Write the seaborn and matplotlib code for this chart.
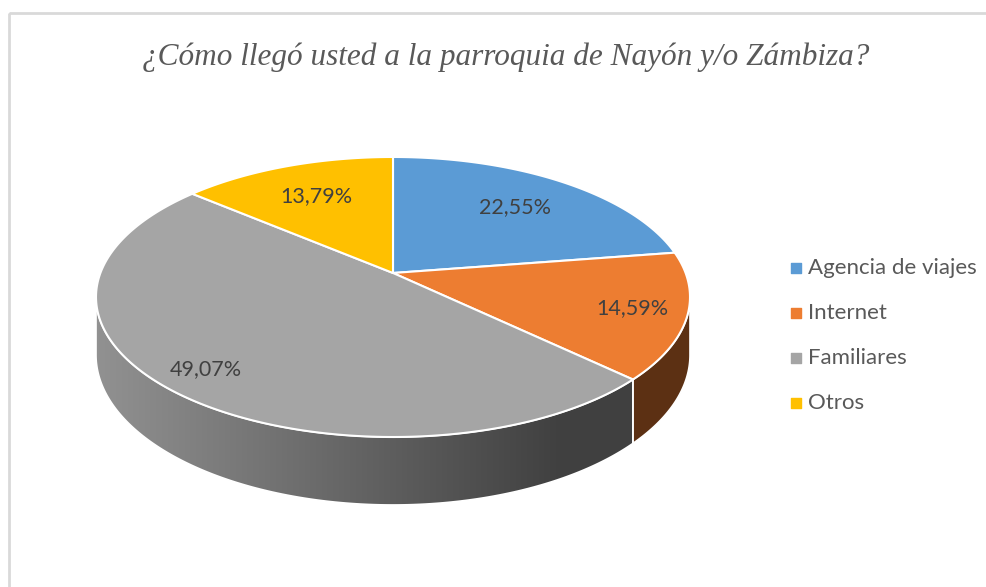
import numpy as np
import matplotlib
matplotlib.use("Agg")
import matplotlib.pyplot as plt
from matplotlib.patches import Polygon, Rectangle
import seaborn as sns

# chart data
title = "¿Cómo llegó usted a la parroquia de Nayón y/o Zámbiza?"
categories = ["Agencia de viajes", "Internet", "Familiares", "Otros"]
shares = [22.55, 14.59, 49.07, 13.79]
slice_colors = ["#5B9BD5", "#ED7D31", "#A5A5A5", "#FFC000"]

# label distance from the centre (fraction of the radius), like excel "best fit"
label_r = [0.70, 0.82, 0.85, 0.69]

sns.set_theme(style="white")
plt.rcParams["font.family"] = ["Lato", "DejaVu Sans"]

# perspective projection of the pie disk (pixel space)
CX, CY = 393, 273
A, B, G = 292.6, 135.9, 0.1714
D0 = 56.3


def proj(theta, r=1.0, drop=False):
    X = r * np.cos(theta)
    Y = r * np.sin(theta)
    w = 1 + G * Y
    x = CX + A * X / w
    y = CY - B * Y / w
    if drop:
        y = y + D0 / w
    return x, y


def shade(x):
    return np.interp(x, [97, 560], [0.88, 0.39])


fig = plt.figure(figsize=(9.86, 5.87), dpi=100)
ax = fig.add_axes([0, 0, 1, 1])
ax.set_xlim(0, 986)
ax.set_ylim(587, 0)
ax.axis("off")

palette = sns.color_palette(slice_colors)
bounds = 90 - np.concatenate([[0], np.cumsum(shares)]) * 3.6
sil = np.degrees(np.arcsin(G))
front_lo, front_hi = -180 + sil, -sil

# side walls
for i, col in enumerate(palette):
    a1, a2 = bounds[i], bounds[i + 1]
    for off in (-360, 0, 360):
        lo = max(a2, front_lo + off)
        hi = min(a1, front_hi + off)
        if hi <= lo:
            continue
        t = np.radians(np.linspace(lo, hi, 200))
        xt, yt = proj(t)
        xb, yb = proj(t[::-1], drop=True)
        pts = np.column_stack([np.r_[xt, xb], np.r_[yt, yb]])
        poly = Polygon(pts, closed=True, facecolor="none", edgecolor="white", lw=1.2, zorder=3)
        ax.add_patch(poly)
        x0, x1 = pts[:, 0].min(), pts[:, 0].max()
        y0, y1 = pts[:, 1].min(), pts[:, 1].max()
        xs = np.linspace(x0, x1, 300)
        img = np.array(col)[None, None, :] * shade(xs)[None, :, None]
        img = np.repeat(img, 2, axis=0)
        im = ax.imshow(img, extent=(x0, x1, y1, y0), aspect="auto", zorder=2,
                       interpolation="bilinear")
        im.set_clip_path(poly)

# top faces
for i, col in enumerate(palette):
    t = np.radians(np.linspace(bounds[i], bounds[i + 1], 200))
    xt, yt = proj(t)
    pts = np.column_stack([np.r_[CX, xt], np.r_[CY, yt]])
    ax.add_patch(Polygon(pts, closed=True, facecolor=col, edgecolor="white",
                         lw=1.5, joinstyle="round", zorder=4))

# data labels
for i, v in enumerate(shares):
    mid = np.radians((bounds[i] + bounds[i + 1]) / 2)
    lx, ly = proj(mid, r=label_r[i])
    ax.text(lx, ly, f"{v:.2f}%".replace(".", ","), ha="center", va="center",
            fontsize=15.5, color="#404040", zorder=5)

# legend
for i, (name, col) in enumerate(zip(categories, palette)):
    ly = 268 + i * 45
    ax.scatter([796], [ly], marker="s", s=42, color=col, zorder=5)
    ax.text(808, ly, name, ha="left", va="center", fontsize=16,
            color="#595959", zorder=5)

ax.text(506, 57, title, ha="center", va="center", fontsize=22.5,
        family=["Liberation Serif"], style="italic", color="#595959")

ax.add_patch(Rectangle((9, 13), 1000, 600, fill=False, edgecolor="#d9d9d9", lw=2))

ax.set_xlim(0, 986)
ax.set_ylim(587, 0)
fig.savefig("out.png", dpi=100)
